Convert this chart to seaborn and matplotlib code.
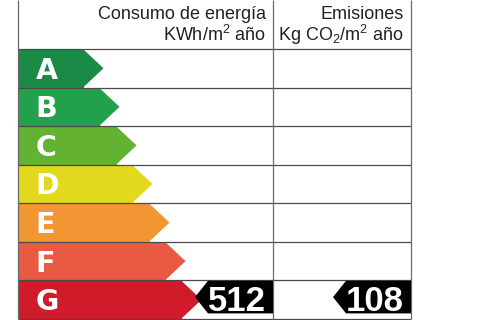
import numpy as np
import matplotlib
matplotlib.use('Agg')
import matplotlib.pyplot as plt
from matplotlib.patches import Polygon
import seaborn as sns

# Energy label data
classes = ['A', 'B', 'C', 'D', 'E', 'F', 'G']
arrow_len = [66, 82, 99, 115, 132, 148, 164]   # body length of each class arrow
colors = ['#1b8a47', '#22a04b', '#63b231', '#e2d81e', '#f29634', '#e85a43', '#d11a2a']
consumo_class = 'G'
consumo_value = 512
emision_class = 'G'
emision_value = 108

sns.set_theme(style='white')
plt.rcParams['font.family'] = ['Liberation Sans', 'DejaVu Sans']
plt.rcParams['mathtext.default'] = 'regular'

ROW_PX = 38.57
HEADER_PX = 49
TIP = 20          # depth of class arrow tip (px)
MID_X = 255.5     # separator between the two columns
RIGHT_X = 393.5   # right border


def row_of_px(p):
    return -0.5 + (p - HEADER_PX) / ROW_PX


fig = plt.figure(figsize=(4.8, 3.2), dpi=100)
ax = fig.add_axes([0, 0, 1, 1])

sns.barplot(x=arrow_len, y=classes, hue=classes, palette=colors, orient='h',
            width=1.0, saturation=1, linewidth=0, legend=False, ax=ax)

# arrow tips + class letters
for i, (L, c) in enumerate(zip(arrow_len, colors)):
    ax.add_patch(Polygon([(L - 0.5, i - 0.5), (L + TIP, i), (L - 0.5, i + 0.5)],
                         closed=True, facecolor=c, edgecolor='none', zorder=2))
    ax.text(18, i + 0.27, classes[i], color='white', fontsize=20.5,
            fontweight='bold', family='DejaVu Sans', ha='left', va='baseline', zorder=4)

# table lines
top = row_of_px(0)
ax.hlines(np.arange(-0.5, len(classes)), 0, RIGHT_X, color='#4a4a4a', lw=0.9, zorder=3)
ax.vlines([0, MID_X, RIGHT_X], top, len(classes) - 0.5, color='#6a6a6a', lw=0.9, zorder=3)

# black value markers
def marker(right, cls, value):
    i = classes.index(cls)
    y0, y1 = i - 0.49, i + 0.355
    ym = (y0 + y1) / 2
    left = right - 65
    ax.add_patch(Polygon([(right, y0), (left, y0), (left - 13, ym), (left, y1), (right, y1)],
                         closed=True, facecolor='black', edgecolor='none', zorder=5))
    ax.text(right - 7, i + 0.285, str(value), color='white', fontsize=25,
            fontweight='bold', ha='right', va='baseline', zorder=6)

marker(MID_X, consumo_class, consumo_value)
marker(RIGHT_X, emision_class, emision_value)

# header
hdr = dict(fontsize=13, color='#222222', ha='right', va='baseline')
ax.text(248.5, row_of_px(19), 'Consumo de energía', **hdr)
ax.text(248.5, row_of_px(40.7), 'KWh/m$^2$ año', **hdr)
ax.text(386, row_of_px(19), 'Emisiones', **hdr)
ax.text(386, row_of_px(40.7), 'Kg CO$_2$/m$^2$ año', **hdr)

ax.set_xlim(-17.5, 462.5)
ax.set_ylim(row_of_px(320), top)
ax.axis('off')

fig.savefig('out.png', dpi=100)
